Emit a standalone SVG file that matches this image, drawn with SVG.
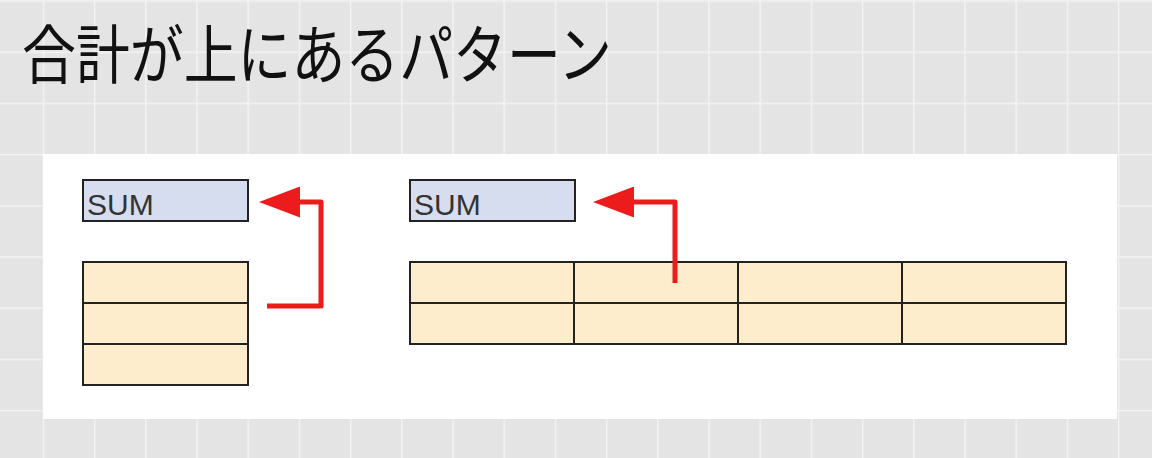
<svg xmlns="http://www.w3.org/2000/svg" width="1152" height="458" viewBox="0 0 1152 458">
  <defs>
    <pattern id="grid" patternUnits="userSpaceOnUse" x="42.7" y="0.3" width="51.2" height="51.2">
      <rect width="51.2" height="51.2" fill="#e4e4e4"/>
      <path d="M0.75 0 V51.2 M0 0.75 H51.2" stroke="#f3f3f3" stroke-width="1.5" fill="none"/>
    </pattern>
    <marker id="head" markerUnits="userSpaceOnUse" viewBox="0 0 41 31" markerWidth="41" markerHeight="31" refX="0" refY="15.5" orient="auto">
      <path d="M0 0 L41 15.5 L0 31 Z" fill="#ec1c1c"/>
    </marker>
  </defs>
  <style>
    .sum { fill: #d6ddef; stroke: #222; stroke-width: 2; }
    .cell { fill: #fdedcc; stroke: #222; stroke-width: 2; }
    .lbl { font-family: "Liberation Sans", Arial, sans-serif; font-size: 30px; fill: #333; }
    .title { font-family: "Noto Sans CJK JP", sans-serif; font-size: 64px; fill: #111; }
    .conn { fill: none; stroke: #ec1c1c; stroke-width: 5; stroke-linejoin: round; }
  </style>

  <rect width="1152" height="458" fill="url(#grid)"/>
  <rect x="43" y="154" width="1074" height="265" fill="#ffffff"/>

  <text class="title" x="22" y="78" textLength="590" lengthAdjust="spacingAndGlyphs">合計が上にあるパターン</text>

  <g id="sum-left">
    <rect class="sum" x="83" y="180" width="165" height="41"/>
    <text class="lbl" x="87" y="215">SUM</text>
  </g>

  <g id="table-left">
    <rect class="cell" x="83" y="262" width="165" height="41"/>
    <rect class="cell" x="83" y="303" width="165" height="41"/>
    <rect class="cell" x="83" y="344" width="165" height="41"/>
  </g>

  <g id="sum-right">
    <rect class="sum" x="410" y="180" width="165" height="41"/>
    <text class="lbl" x="414" y="215">SUM</text>
  </g>

  <g id="table-right">
    <rect class="cell" x="410" y="262" width="164" height="41"/>
    <rect class="cell" x="574" y="262" width="164" height="41"/>
    <rect class="cell" x="738" y="262" width="164" height="41"/>
    <rect class="cell" x="902" y="262" width="164" height="41"/>
    <rect class="cell" x="410" y="303" width="164" height="41"/>
    <rect class="cell" x="574" y="303" width="164" height="41"/>
    <rect class="cell" x="738" y="303" width="164" height="41"/>
    <rect class="cell" x="902" y="303" width="164" height="41"/>
  </g>

  <g id="connectors">
    <path class="conn" d="M267 306 H321 V202 H300" marker-end="url(#head)"/>
    <path class="conn" d="M675 283 V202 H634" marker-end="url(#head)"/>
  </g>
</svg>
